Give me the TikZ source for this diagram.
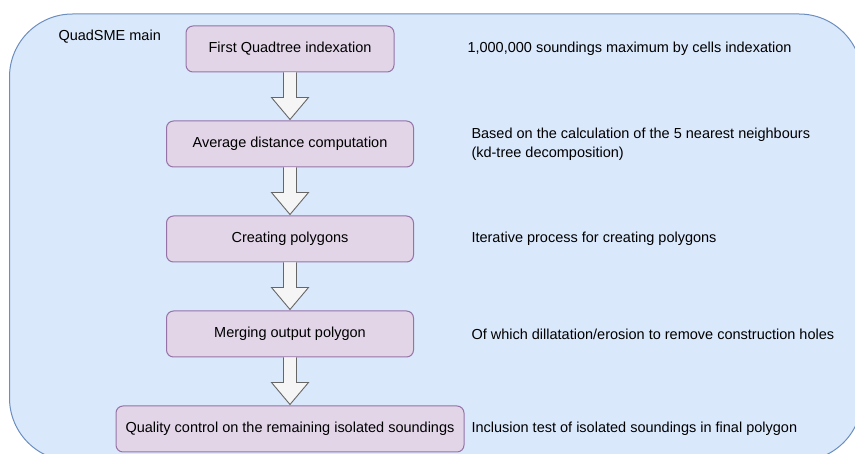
\documentclass[tikz,border=0pt]{standalone}
\usepackage{fontspec}
\setmainfont{Liberation Sans}
\usepackage{xcolor}
\usepackage{tikz}
\usetikzlibrary{positioning,calc}
\definecolor{QSBlueFill}  {HTML}{DAE8FC}
\definecolor{QSBlueLine}  {HTML}{6C8EBF}
\definecolor{QSPurpleFill}{HTML}{E1D5E7}
\definecolor{QSPurpleLine}{HTML}{9673A6}
\definecolor{QSArrowFill} {HTML}{F5F5F5}
\definecolor{QSArrowLine} {HTML}{666666}
\newcommand{\qsfont}{\fontsize{14.5}{19}\selectfont}
\tikzset{
  stepbox/.style={draw=QSPurpleLine,fill=QSPurpleFill,rounded corners=7pt,minimum height=46pt,inner sep=0pt,font=\qsfont},
  note/.style={anchor=west,align=left,inner sep=0pt,font=\qsfont},
  blockarrow/.style={draw=QSArrowLine,fill=QSArrowFill,line width=0.9pt,line join=miter}
}

\begin{document}
\begin{tikzpicture}[x=1pt,y=-1pt,line width=1pt,node distance=48pt]
    \useasboundingbox (0,0) rectangle (855,454);
    % container
    \begin{scope}
      \clip (0,0) rectangle (855,454);
      \draw[QSBlueLine,fill=QSBlueFill,rounded corners=63pt] (9.5,14) rectangle (862,461);
    \end{scope}
    \node[font=\qsfont,anchor=west,inner sep=0pt] (title) at (58,37) {QuadSME main};
    % steps
    \node[stepbox,minimum width=208pt] (s1) at (290,49) {First Quadtree indexation};
    \node[stepbox,minimum width=247pt,below=of s1] (s2) {Average distance computation};
    \node[stepbox,minimum width=247pt,below=of s2] (s3) {Creating polygons};
    \node[stepbox,minimum width=247pt,below=of s3] (s4) {Merging output polygon};
    \node[stepbox,minimum width=348pt,below=of s4] (s5) {Quality control on the remaining isolated soundings};
    % block arrows
    \foreach \a/\b in {s1/s2,s2/s3,s3/s4,s4/s5}{
      \draw[blockarrow] ($(\a.south)+(-6.5,0)$) -- ($(\b.north)+(-6.5,-23)$) -- ($(\b.north)+(-18.5,-23)$)
        -- ($(\b.north)+(0,-1)$) -- ($(\b.north)+(18.5,-23)$) -- ($(\b.north)+(6.5,-23)$) -- ($(\a.south)+(6.5,0)$);
    }
    % notes
    \node[note] (n1) at (467,0 |- s1) {1,000,000 soundings maximum by cells indexation};
    \node[note] (n2) at (471,0 |- s2) {Based on the calculation of the 5 nearest neighbours\\(kd-tree decomposition)};
    \node[note] (n3) at (471,0 |- s3) {Iterative process for creating polygons};
    \node[note] (n4) at (471,0 |- s4) {Of which dillatation/erosion to remove construction holes};
    \node[note] (n5) at (471,0 |- s5) {Inclusion test of isolated soundings in final polygon};
\end{tikzpicture}
\end{document}
